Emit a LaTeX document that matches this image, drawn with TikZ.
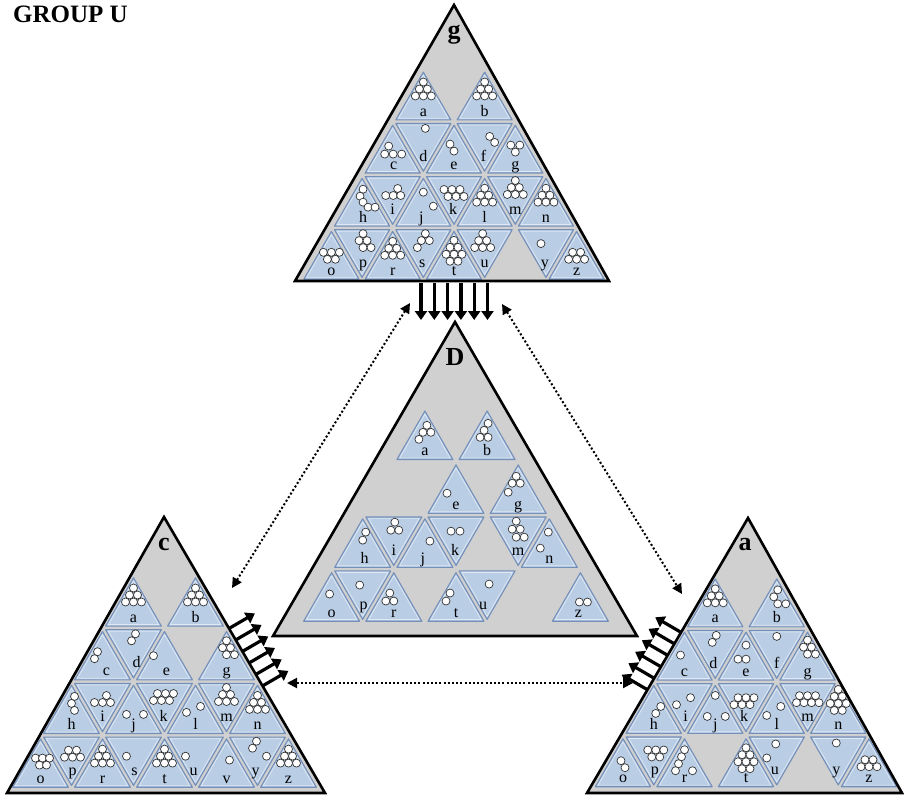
\documentclass[tikz,border=0pt]{standalone}
\usepackage{fontspec}
\setmainfont{Liberation Serif}
\usetikzlibrary{arrows.meta}
\definecolor{trigray}{HTML}{D0D0D0}
\definecolor{cellfill}{HTML}{B9CDE5}
\definecolor{cellline}{HTML}{7590B8}
\tikzset{
  bigtri/.style={fill=trigray},
  bigedge/.style={draw=black, line width=2.6pt, line join=miter},
  cellshape/.style={fill=cellfill, draw=cellline, line width=1.1pt, line join=round},
  cellinner/.style={draw=white!55!cellfill, line width=0.7pt, line join=round},
  dotc/.style={fill=white, draw=black!80, line width=0.7pt},
  lab/.style={font=\fontsize{16}{16}\selectfont, inner sep=0pt, anchor=base},
  biglab/.style={font=\bfseries\fontsize{26}{26}\selectfont, inner sep=0pt, anchor=base},
  flowarrow/.style={line width=3.2pt, -{Triangle[length=9pt,width=12pt]}},
  linkarrow/.style={line width=2pt, dash pattern=on 2pt off 2.2pt, {Triangle[length=10pt,width=10pt]}-{Triangle[length=10pt,width=10pt]}}
}
\def\Psix{0/-22,-4/-15,4/-15,-8/-8,0/-8,8/-8}
\def\Peight{0/-23,-4/-16,4/-16,-8/-9,0/-9,8/-9,-4/-2,4/-2}
\newcommand\UC[5]{%
  \pgfmathsetmacro\cxx{\GX+(#2-#1/2)*\GW}%
  \pgfmathsetmacro\cyy{\GY+(#1+2/3)*\GH}%
  \edef\dotlist{#5}%
  \begin{scope}[shift={(\cxx,\cyy)}]
    \draw[cellshape] (0,-0.6*\GH) -- (-0.45*\GW,0.3*\GH) -- (0.45*\GW,0.3*\GH) -- cycle;
    \draw[cellinner] (0,-0.54*\GH) -- (-0.405*\GW,0.27*\GH) -- (0.405*\GW,0.27*\GH) -- cycle;
    \foreach \dx/\dy in \dotlist {\draw[dotc] (\dx,\dy) circle[radius=4pt];}
    \node[lab] at (#4,12) {#3};
  \end{scope}}
\newcommand\DC[5]{%
  \pgfmathsetmacro\cxx{\GX+(#2+0.5-#1/2)*\GW}%
  \pgfmathsetmacro\cyy{\GY+(#1+1/3)*\GH}%
  \edef\dotlist{#5}%
  \begin{scope}[shift={(\cxx,\cyy)}]
    \draw[cellshape] (-0.45*\GW,-0.3*\GH) -- (0.45*\GW,-0.3*\GH) -- (0,0.6*\GH) -- cycle;
    \draw[cellinner] (-0.405*\GW,-0.27*\GH) -- (0.405*\GW,-0.27*\GH) -- (0,0.54*\GH) -- cycle;
    \foreach \dx/\dy in \dotlist {\draw[dotc] (\dx,\dy) circle[radius=4pt];}
    \node[lab] at (#4,22) {#3};
  \end{scope}}
\begin{document}
\begin{tikzpicture}[x=1pt,y=-1pt]
\useasboundingbox (0,0) rectangle (904,795);
\node[font=\bfseries\fontsize{25}{25}\selectfont, inner sep=0pt, anchor=base west] (title) at (13,22.5) {GROUP U};
% ---------- big triangle fills
\coordinate (gT) at (454,5);   \coordinate (gL) at (295,281); \coordinate (gR) at (609,281);
\coordinate (DT) at (455,322); \coordinate (DL) at (273,636); \coordinate (DR) at (637,636);
\coordinate (cT) at (164,517); \coordinate (cL) at (7,793);   \coordinate (cR) at (325,793);
\coordinate (aT) at (748,518); \coordinate (aL) at (587,793); \coordinate (aR) at (902,793);
\fill[bigtri] (gT) -- (gL) -- (gR) -- cycle;
\fill[bigtri] (DT) -- (DL) -- (DR) -- cycle;
\fill[bigtri] (cT) -- (cL) -- (cR) -- cycle;
\fill[bigtri] (aT) -- (aL) -- (aR) -- cycle;
% ---------- triangle g
\def\GX{454}\def\GY{15.5}\def\GW{61.3}\def\GH{53.1}
\UC{1}{0}{a}{0}{\Psix}
\UC{1}{1}{b}{0}{\Psix}
\UC{2}{0}{c}{1}{-4/-11,-8/-3,0.5/-3,9/-3}
\DC{2}{0}{d}{0}{2/-11}
\UC{2}{1}{e}{0}{-4/-13,0/-6}
\DC{2}{1}{f}{-1}{5/-3,10/3}
\UC{2}{2}{g}{0}{-4.5/-12,4.5/-12,0/-5}
\UC{3}{0}{h}{1}{1/-21,-2/-14,1/-8,6/-3,13/-3}
\DC{3}{0}{i}{0}{-7/3,0.5/3,5/-4,8/3}
\UC{3}{1}{j}{-2}{0/-18,10/-4}
\DC{3}{1}{k}{-1}{-10/-3,-2/-3,6/-3,-6/4,2/4,10/4}
\UC{3}{2}{l}{0}{\Psix}
\DC{3}{2}{m}{0}{0/-12,-4/-5,4/-5,-8/2,0/2,8/2}
\UC{3}{3}{n}{0}{\Psix}
\UC{4}{0}{o}{0}{-8/-11,0/-11,8/-11,-4/-4,4/-4}
\DC{4}{0}{p}{1}{1/-12,-3/-5,5/-5,1/2,9/2}
\UC{4}{1}{r}{0}{\Psix}
\DC{4}{1}{s}{-1}{2/-12,-2/-5,6/-5,-6/2}
\UC{4}{2}{t}{0}{\Peight}
\DC{4}{2}{u}{0}{-2/-12,-6/-5,2/-5,-10/2,-2/2,6/2}
\DC{4}{3}{y}{-1}{-5/-2}
\UC{4}{4}{z}{0}{-4/-11,4/-11,-8/-4,0/-4,8/-4}
% ---------- triangle D
\def\GX{456}\def\GY{353.5}\def\GW{62.2}\def\GH{53.9}
\UC{1}{0}{a}{0}{2/-18,-2/-11,6/-11,-6/-4}
\UC{1}{1}{b}{0}{1/-20,-3/-13,-7/-6,1/-6}
\UC{2}{1}{e}{0}{-9/-4}
\UC{2}{2}{g}{0}{-2/-21,-6/-14,2/-14,-10/-5}
\UC{3}{0}{h}{2}{3/-19,0/-11}
\DC{3}{0}{i}{0}{1/-11,-3/-3,5/-3}
\UC{3}{1}{j}{-2}{5/-10}
\DC{3}{1}{k}{-1}{-5/-2,4/-2}
\DC{3}{2}{m}{0}{-2/-12,-6/-4,2/-4,-2/4,6/4}
\UC{3}{3}{n}{0}{-1/-19,-9/-3}
\UC{4}{0}{o}{0}{-2/-11}
\DC{4}{0}{p}{1}{-3/-2}
\UC{4}{1}{r}{0}{-4/-12,-8/-4,0/-4}
\UC{4}{2}{t}{0}{-6/-12,-10/-4}
\DC{4}{2}{u}{-4}{2/-3}
\UC{4}{4}{z}{-2}{-1/-3,7/-3}
% ---------- triangle c
\def\GX{164.5}\def\GY{520.5}\def\GW{62}\def\GH{53.7}
\UC{1}{0}{a}{0}{\Psix}
\UC{1}{1}{b}{0}{\Psix}
\UC{2}{0}{c}{4}{-5/-12,-8/-5}
\DC{2}{0}{d}{3}{2/-12,-2/-5}
\UC{2}{1}{e}{2}{-11/-8}
\UC{2}{2}{g}{0}{0/-23,-4/-16,4/-16,0/-9,8/-9}
\UC{3}{0}{h}{0}{3/-21,0/-14,3/-7}
\DC{3}{0}{i}{0}{-8/3,0/3,8/3,4/-4}
\UC{3}{1}{j}{0}{-7/-3,10/-3}
\DC{3}{1}{k}{-1}{-7/-6,1/-6,9/-6,-11/1,-3/1,5/1}
\UC{3}{2}{l}{0}{-9/-5,5/-11}
\DC{3}{2}{m}{0}{0/-12,-4/-5,4/-5,-8/2,0/2,8/2}
\UC{3}{3}{n}{0}{\Psix}
\UC{4}{0}{o}{0}{-5/-13,2/-13,9/-13,-1/-6,6/-6}
\DC{4}{0}{p}{1}{-3/-3,5/-3,-7/4,1/4,9/4}
\UC{4}{1}{r}{0}{\Psix}
\DC{4}{1}{s}{1}{-7/3}
\UC{4}{2}{t}{0}{\Psix}
\DC{4}{2}{u}{-2}{-10/3}
\UC{4}{3}{v}{0}{3/-11}
\DC{4}{3}{y}{-2}{-1/-12,-5/-5,9/3}
\UC{4}{4}{z}{0}{\Psix}
% ---------- triangle a
\def\GX{746}\def\GY{522}\def\GW{61.5}\def\GH{53.3}
\UC{1}{0}{a}{0}{\Psix}
\UC{1}{1}{b}{0}{1/-21,-3/-14,1/-7,9/-7}
\UC{2}{0}{c}{0}{-4/-9}
\DC{2}{0}{d}{-2}{1/-11,-3/-4}
\UC{2}{1}{e}{0}{0/-19,-8/-5,0/-5}
\DC{2}{1}{f}{0}{0/-10}
\UC{2}{2}{g}{0}{0/-24,-4/-17,4/-17,0/-10,8/-10}
\UC{3}{0}{h}{0}{7/-11,2/-4}
\DC{3}{0}{i}{1}{-8/5,6/-2}
\UC{3}{1}{j}{0}{0/-22,-8/-1,10/-1}
\DC{3}{1}{k}{-2}{-8/-2,0/-2,8/-2,-12/5,-4/5,4/5}
\UC{3}{2}{l}{0}{-10/-2,4/-11}
\DC{3}{2}{m}{0}{-8/-4,0/-4,8/-4,-11/3,-3.5/3,4/3,11.5/3}
\UC{3}{3}{n}{0}{0/-28,-4/-21,4/-21,-8/-14,0/-14,8/-14,-4/-7,4/-7}
\UC{4}{0}{o}{0}{-2/-10,2/-3}
\DC{4}{0}{p}{1}{-6/-3,2/-3,10/-3,-2/4,6/4}
\UC{4}{1}{r}{0}{0/-21,-3/-14,-6/-7,-9/0,8/0}
\UC{4}{2}{t}{0}{\Peight}
\DC{4}{2}{u}{-2}{-1/-9,-10/5}
\DC{4}{3}{y}{-2}{-2/-10}
\UC{4}{4}{z}{0}{-4/-11,4/-11,-8/-4,0/-4,8/-4}
% ---------- big triangle borders
\draw[bigedge] (gT) -- (gL) -- (gR) -- cycle;
\draw[bigedge] (DT) -- (DL) -- (DR) -- cycle;
\draw[bigedge] (cT) -- (cL) -- (cR) -- cycle;
\draw[bigedge] (aT) -- (aL) -- (aR) -- cycle;
\node[biglab] (labg) at (454,38) {g};
\node[biglab] (labD) at (455,365) {D};
\node[biglab] (labc) at (164,550) {c};
\node[biglab] (laba) at (745,550) {a};
% ---------- thick arrows
\foreach \i in {0,...,5} {
  \coordinate (ga\i) at ({421+13.3*\i},283);
  \draw[flowarrow] (ga\i) -- ++(0,37);
}
\foreach \i in {0,...,5} {
  \coordinate (ca\i) at ({165+0.504*(128.5+13.3*\i)},{517+0.864*(128.5+13.3*\i)});
  \draw[flowarrow] (ca\i) -- ++(25.1,-14.6);
}
\foreach \i in {0,...,5} {
  \coordinate (aa\i) at ({747-0.505*(132+13.3*\i)},{518+0.863*(132+13.3*\i)});
  \draw[flowarrow] (aa\i) -- ++(-25.1,-14.6);
}
% ---------- dotted links
\coordinate (l1a) at (410,303); \coordinate (l1b) at (232,588);
\coordinate (l2a) at (502,304); \coordinate (l2b) at (682,594);
\coordinate (l3a) at (287,683); \coordinate (l3b) at (633,683);
\draw[linkarrow] (l1a) -- (l1b);
\draw[linkarrow] (l2a) -- (l2b);
\draw[linkarrow] (l3a) -- (l3b);
\end{tikzpicture}
\end{document}
